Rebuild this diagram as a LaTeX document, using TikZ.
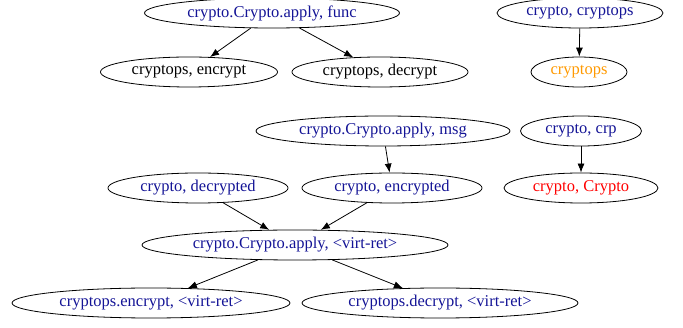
\documentclass[tikz,border=0pt]{standalone}
\usepackage{fontspec}
\setmainfont{Liberation Serif}
\usetikzlibrary{arrows.meta,shapes.geometric}
\definecolor{fnblue}{RGB}{20,20,150}
\definecolor{modorange}{RGB}{255,153,0}
\begin{document}
\begin{tikzpicture}[x=1pt,y=-1pt]
\tikzstyle{var}=[ellipse,draw=black,line width=0.8pt,inner sep=0pt,minimum height=30pt,text=fnblue,font=\fontsize{16.5}{18}\selectfont]
\tikzstyle{dep}=[draw=black,line width=0.8pt,-{Latex[length=9pt,width=7pt]}]
\useasboundingbox (0,0) rectangle (683,328);
\node[var,minimum width=255pt] (func) at (272,13) {crypto.Crypto.apply, func};
\node[var,minimum width=177pt,text=black] (enc) at (189,72) {cryptops, encrypt};
\node[var,minimum width=176pt,text=black] (dec) at (380,72) {cryptops, decrypt};
\node[var,minimum width=166pt] (modops) at (580,13) {crypto, cryptops};
\node[var,minimum width=96pt,text=modorange] (ops) at (579,72) {cryptops};
\node[var,minimum width=254pt] (msg) at (383,131) {crypto.Crypto.apply, msg};
\node[var,minimum width=121pt] (crp) at (581,131) {crypto, crp};
\node[var,minimum width=180pt] (decd) at (198,188) {crypto, decrypted};
\node[var,minimum width=180pt] (encd) at (392,188) {crypto, encrypted};
\node[var,minimum width=154pt,text=red] (cls) at (581,188) {crypto, Crypto};
\node[var,minimum width=306pt] (ret) at (295,245) {crypto.Crypto.apply, <virt-ret>};
\node[var,minimum width=278pt] (encret) at (151,303) {cryptops.encrypt, <virt-ret>};
\node[var,minimum width=276pt] (decret) at (440,303) {cryptops.decrypt, <virt-ret>};
\draw[dep] (func) to (enc);
\draw[dep] (func) to (dec);
\draw[dep] (modops) to (ops);
\draw[dep] (msg) to (encd);
\draw[dep] (crp) to (cls);
\draw[dep] (decd) to (ret);
\draw[dep] (encd) to (ret);
\draw[dep] (ret) to (encret);
\draw[dep] (ret) to (decret);
\end{tikzpicture}
\end{document}
